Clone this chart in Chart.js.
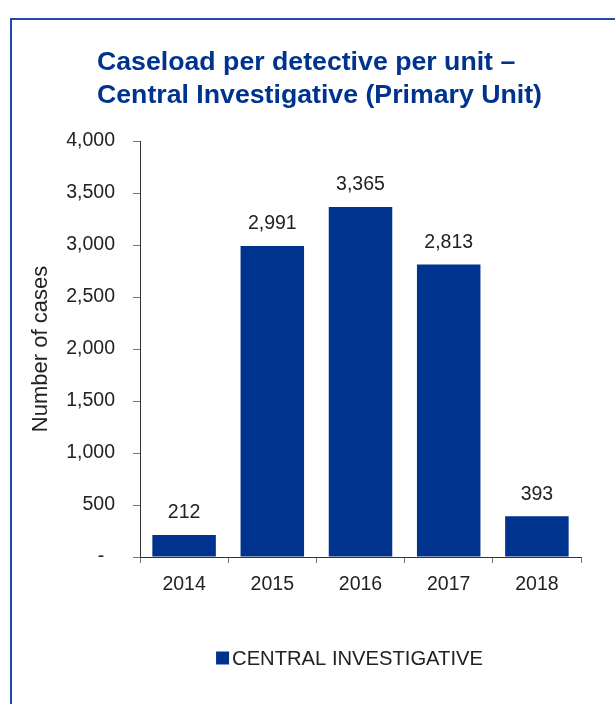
<!DOCTYPE html>
<html>
<head>
<meta charset="utf-8">
<script src="https://cdn.jsdelivr.net/npm/chart.js@4.4.0/dist/chart.umd.min.js"></script>
<style>
html,body{margin:0;padding:0;background:#fff;}
#wrap{position:relative;width:615px;height:704px;}
</style>
</head>
<body>
<div id="wrap"><canvas id="c" width="615" height="704"></canvas></div>
<script>
const categories = ['2014', '2015', '2016', '2017', '2018'];
const caseloads = [212, 2991, 3365, 2813, 393];
const seriesName = 'CENTRAL INVESTIGATIVE';
const titleLines = ['Caseload per detective per unit \u2013', 'Central Investigative (Primary Unit)'];
const yTitle = 'Number of cases';

const BLUE = '#00338D';
const TEXT = '#222222';
const FONT = "'Liberation Sans', Arial, sans-serif";

const fmt = v => v === 0 ? '-  ' : v.toLocaleString('en-US');

const decor = {
  id: 'decor',
  beforeDraw(chart) {
    const ctx = chart.ctx;
    ctx.save();
    ctx.strokeStyle = '#1F4AA8';
    ctx.lineWidth = 2;
    ctx.beginPath();
    ctx.moveTo(11, 720);
    ctx.lineTo(11, 19);
    ctx.lineTo(640, 19);
    ctx.stroke();
    ctx.restore();
  },
  afterDraw(chart) {
    const ctx = chart.ctx;
    ctx.save();
    // title
    ctx.fillStyle = BLUE;
    ctx.font = "bold 26.7px " + FONT;
    ctx.textAlign = 'left';
    ctx.textBaseline = 'middle';
    ctx.fillText(titleLines[0], 97, 63);
    ctx.fillText(titleLines[1], 97, 96);
    // value labels
    ctx.fillStyle = TEXT;
    ctx.font = "19.5px " + FONT;
    ctx.textAlign = 'center';
    const meta = chart.getDatasetMeta(0);
    meta.data.forEach((bar, i) => {
      ctx.fillText(fmt(chart.data.datasets[0].data[i]), bar.x, bar.y - 22);
    });
    // legend
    ctx.font = "20.2px " + FONT;
    const label = chart.data.datasets[0].label;
    const tw = ctx.measureText(label).width;
    const box = 13, gap = 3;
    const total = box + gap + tw;
    const cx = 349.5, cy = 658;
    const x0 = cx - total / 2;
    ctx.fillStyle = chart.data.datasets[0].backgroundColor;
    ctx.fillRect(x0, cy - box / 2, box, box);
    ctx.fillStyle = TEXT;
    ctx.textAlign = 'left';
    ctx.fillText(label, x0 + box + gap, cy + 1);
    ctx.restore();
  }
};

new Chart(document.getElementById('c'), {
  type: 'bar',
  data: {
    labels: categories,
    datasets: [{
      label: seriesName,
      data: caseloads,
      backgroundColor: BLUE,
      borderWidth: 0,
      barPercentage: 0.72,
      categoryPercentage: 1.0
    }]
  },
  options: {
    responsive: false,
    animation: false,
    devicePixelRatio: 1,
    layout: { padding: { left: 0, top: 141, right: 34, bottom: 87 } },
    plugins: {
      legend: { display: false },
      title: { display: false },
      tooltip: { enabled: false }
    },
    scales: {
      x: {
        afterFit(scale) { scale.height = 60; },
        grid: { offset: true, drawOnChartArea: false, drawTicks: true, tickLength: 6, color: '#777', tickWidth: 1 },
        border: { display: true, color: '#333', width: 1 },
        ticks: { color: TEXT, font: { family: FONT, size: 19.5 }, padding: 10 }
      },
      y: {
        min: 0, max: 4000,
        afterFit(scale) { scale.width = 140; },
        ticks: { stepSize: 500, color: TEXT, font: { family: FONT, size: 19.5 }, padding: 18, callback: v => fmt(v) },
        grid: { drawOnChartArea: false, drawTicks: true, tickLength: 7, color: '#777', tickWidth: 1 },
        border: { display: true, color: '#333', width: 1 },
        title: { display: true, text: yTitle, color: TEXT, font: { family: FONT, size: 22 }, padding: { top: 28, bottom: 0 } }
      }
    }
  },
  plugins: [decor]
});
</script>
</body>
</html>
